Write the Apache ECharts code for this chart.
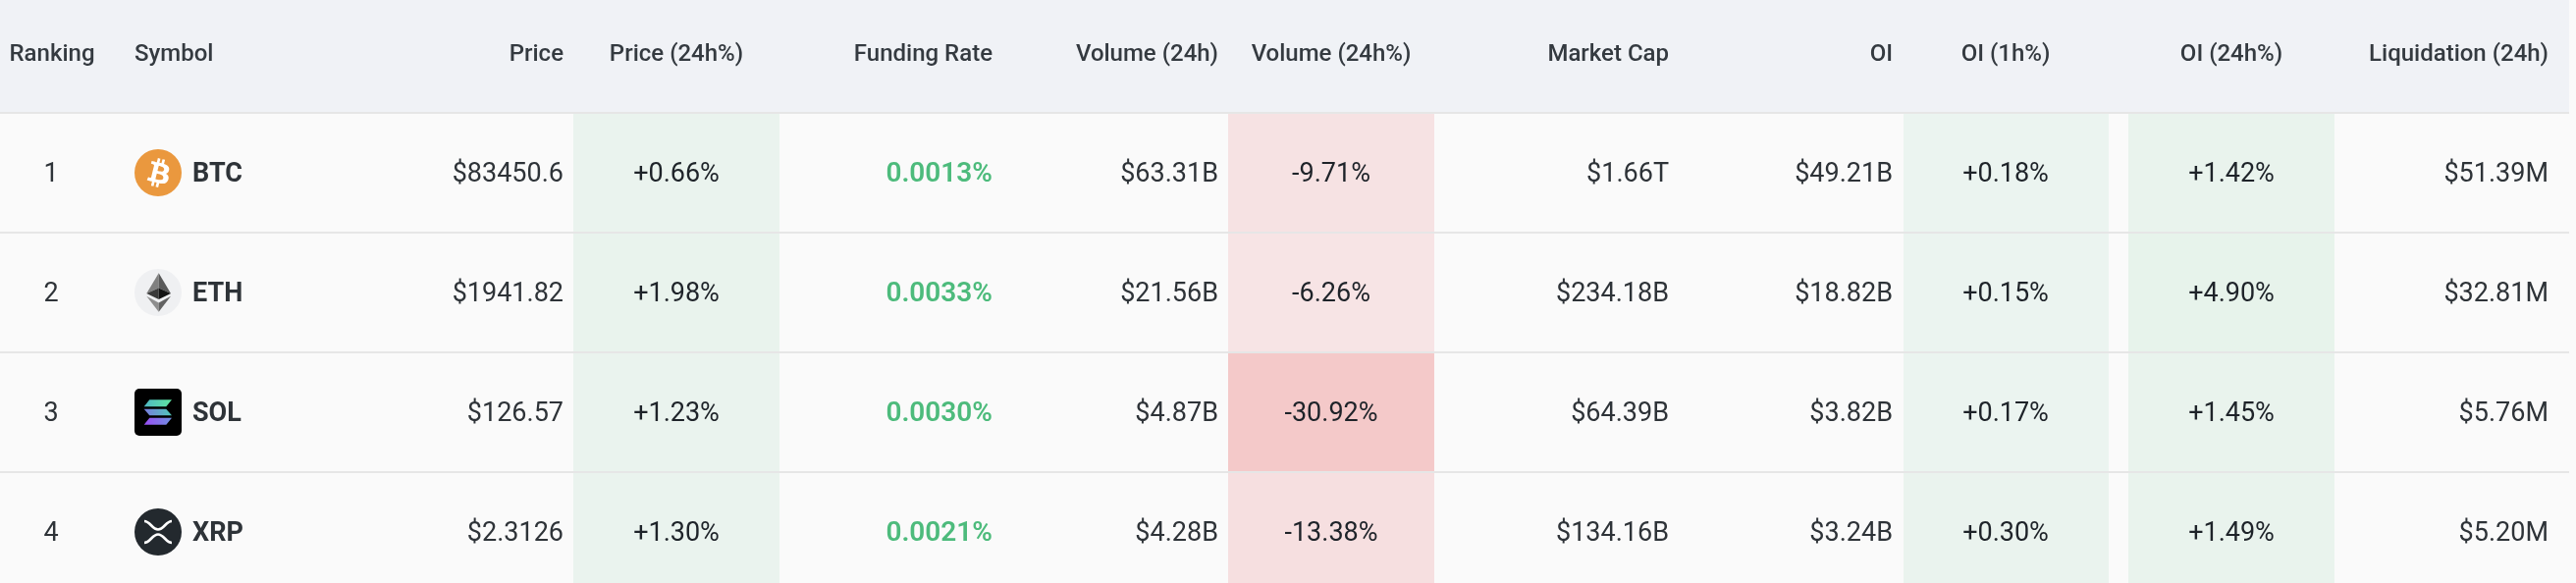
<!DOCTYPE html>
<html><head><meta charset="utf-8">
<style>html,body{margin:0;padding:0;background:#FAFAFA}#c{width:2624px;height:594px}</style>
<script src="https://cdn.jsdelivr.net/npm/echarts@6/dist/echarts.min.js"></script>
</head><body><div id="c"></div>
<script>
// ---- data ----
const headers = ['Ranking','Symbol','Price','Price (24h%)','Funding Rate','Volume (24h)','Volume (24h%)','Market Cap','OI','OI (1h%)','OI (24h%)','Liquidation (24h)'];
const rankings = [1,2,3,4];
const symbols = ['BTC','ETH','SOL','XRP'];
const prices = ['$83450.6','$1941.82','$126.57','$2.3126'];
const priceChange = [0.66,1.98,1.23,1.30];
const fundingRates = [0.0013,0.0033,0.0030,0.0021];
const volumes = ['$63.31B','$21.56B','$4.87B','$4.28B'];
const volumeChange = [-9.71,-6.26,-30.92,-13.38];
const marketCaps = ['$1.66T','$234.18B','$64.39B','$134.16B'];
const openInterest = ['$49.21B','$18.82B','$3.82B','$3.24B'];
const oiChange1h = [0.18,0.15,0.17,0.30];
const oiChange24h = [1.42,4.90,1.45,1.49];
const liquidations = ['$51.39M','$32.81M','$5.76M','$5.20M'];

// ---- formatting ----
const pct = v => (v>0?'+':'')+v.toFixed(2)+'%';
const columnText = [
  rankings.map(String), symbols, prices, priceChange.map(pct),
  fundingRates.map(v=>v.toFixed(4)+'%'), volumes, volumeChange.map(pct),
  marketCaps, openInterest, oiChange1h.map(pct), oiChange24h.map(pct), liquidations
];

// ---- layout & style (not data) ----
const W=2624,H=594,TABLE_R=2617,HEAD_B=114,LINE=2,ROW_H=122,ROW0=116;
const FONT='Roboto';
const anchors=[[52,'center'],[137,'left'],[574,'right'],[689,'center'],[1011,'right'],[1241,'right'],[1356,'center'],[1700,'right'],[1928,'right'],[2043,'center'],[2273,'center'],[2596,'right']];
const headAnchors=anchors.map((a,i)=>i===0?[53,'center']:a);
const tints={
 3:{x:[584,794],c:['#EAF3EE','#E9F3ED','#EAF3EE','#EAF3EE']},
 6:{x:[1251,1461],c:['#F6E2E3','#F7E4E5','#F4C9C9','#F6DFE0']},
 9:{x:[1939,2148],c:['#EBF4F0','#EBF4F0','#EBF4F0','#EAF3EE']},
 10:{x:[2168,2378],c:['#E9F3ED','#E7F3EB','#E9F3ED','#E9F3ED']}
};
const iconCenterY=[176,298,420,542];
const rowTop=r=>ROW0+r*ROW_H;

function iconBTC(){return [
 {type:'circle',shape:{cx:0,cy:0,r:24},style:{fill:'#EA983E'}},
 {type:'path',shape:{pathData:'M23.189 14.02c.314-2.096-1.283-3.223-3.465-3.975l.708-2.84-1.728-.43-.69 2.765c-.454-.114-.92-.22-1.385-.326l.695-2.783L15.596 6l-.708 2.839c-.376-.086-.746-.17-1.104-.26l.002-.009-2.384-.595-.46 1.846s1.283.294 1.256.312c.7.175.826.638.805 1.006l-.806 3.235c.048.012.11.03.18.057l-.183-.045-1.13 4.532c-.086.212-.303.531-.793.41.018.025-1.256-.313-1.256-.313l-.858 1.978 2.25.561c.418.105.828.215 1.231.318l-.715 2.872 1.727.43.708-2.84c.472.127.93.245 1.378.357l-.706 2.828 1.728.43.715-2.866c2.948.558 5.164.333 6.097-2.333.752-2.146-.037-3.385-1.588-4.192 1.13-.26 1.98-1.003 2.207-2.538zm-3.95 5.538c-.533 2.147-4.148.986-5.32.695l.95-3.805c1.172.293 4.929.872 4.37 3.11zm.535-5.569c-.487 1.953-3.495.96-4.47.717l.86-3.45c.975.243 4.118.696 3.61 2.733z',x:-11.5,y:-15,width:23,height:30},style:{fill:'#fff'}}
];}
function poly(pts,fill){return {type:'polygon',shape:{points:pts},style:{fill}};}
function iconETH(){return [
 {type:'circle',shape:{cx:0,cy:0,r:24},style:{fill:'#EFF0F2'}},
 poly([[0.7,-19.7],[-11.7,1],[0.7,-4.5]],'#808080'),
 poly([[0.7,-19.7],[13,1],[0.7,-4.5]],'#5A5A5A'),
 poly([[0.7,-4.5],[-11.7,1],[0.7,7]],'#3A3A3A'),
 poly([[0.7,-4.5],[13,1],[0.7,7]],'#141414'),
 poly([[-11.7,3.7],[0.7,10.5],[0.7,19.7]],'#8E8E8E'),
 poly([[13,3.7],[0.7,10.5],[0.7,19.7]],'#626262')
];}
function iconSOL(){
 const g=(c0,c1)=>new echarts.graphic.LinearGradient(0,0,1,0,[{offset:0,color:c0},{offset:1,color:c1}]);
 return [
 {type:'rect',shape:{x:-24,y:-24,width:48,height:48,r:5},style:{fill:'#000'}},
 poly([[-8.7,-12.7],[14,-12.7],[8.3,-5.7],[-14.3,-5.7]],g('#4FB8C4','#5FE6A0')),
 poly([[-14.3,-3.3],[8.3,-3.3],[14,3.3],[-8.7,3.3]],g('#7A7CE0','#4FC8B8')),
 poly([[-8.7,5.7],[14,5.7],[8.3,12.7],[-14.3,12.7]],g('#9A4DF5','#6F8FE0'))
];}
function iconXRP(){
 const s={fill:null,stroke:'#fff',lineWidth:2.6};
 return [
 {type:'circle',shape:{cx:0,cy:0,r:24},style:{fill:'#23292E'}},
 {type:'path',shape:{pathData:'M-14 -11 C-8 -11 -6 -2.5 0 -2.5 C6 -2.5 8 -11 14 -11',x:-14,y:-11,width:28,height:8.5},style:s},
 {type:'path',shape:{pathData:'M-14 11 C-8 11 -6 2.5 0 2.5 C6 2.5 8 11 14 11',x:-14,y:2.5,width:28,height:8.5},style:s}
];}
const icons=[iconBTC,iconETH,iconSOL,iconXRP];

// ---- series data built from the arrays ----
const cellItems=[];
Object.keys(tints).forEach(k=>rankings.forEach((_,r)=>cellItems.push([+k,r])));
const headItems=headers.map((_,c)=>[c,-1]);
const bodyItems=[];
columnText.forEach((col,c)=>col.forEach((_,r)=>bodyItems.push([c,r])));
const iconItems=symbols.map((_,r)=>[0,r]);

const textColor=(c)=> c===4?'#4DBB7C':([3,6,9,10].includes(c)?'#1E2329':'#2E3338');

const option={
 animation:false,
 backgroundColor:'#FAFAFA',
 grid:{left:0,right:0,top:0,bottom:0},
 xAxis:{type:'value',min:0,max:W,show:false},
 yAxis:{type:'value',min:0,max:H,inverse:true,show:false},
 tooltip:{show:false},
 series:[
 {type:'custom',silent:true,clip:false,data:[[0,0]],encode:{x:0,y:1},
  renderItem(p,api){
   const tl=api.coord([0,0]),br=api.coord([TABLE_R,HEAD_B]);
   return {type:'rect',shape:{x:tl[0],y:tl[1],width:br[0]-tl[0],height:br[1]-tl[1]},style:{fill:'#F0F2F6'}};
  }},
 {type:'custom',silent:true,clip:false,data:cellItems,encode:{x:0,y:1},
  renderItem(p,api){
   const c=api.value(0),r=api.value(1),t=tints[c];
   const a=api.coord([t.x[0],rowTop(r)]),b=api.coord([t.x[1],Math.min(rowTop(r)+ROW_H,H)]);
   return {type:'rect',shape:{x:a[0],y:a[1],width:b[0]-a[0],height:b[1]-a[1]},style:{fill:t.c[r]}};
  }},
 {type:'custom',silent:true,clip:false,data:rankings.map((_,r)=>[0,r]),encode:{x:0,y:1},z:3,
  renderItem(p,api){
   const r=api.value(1),a=api.coord([0,rowTop(r)-LINE]),b=api.coord([TABLE_R,rowTop(r)]);
   return {type:'rect',shape:{x:a[0],y:a[1],width:b[0]-a[0],height:b[1]-a[1]},style:{fill:'#E6E6E6'}};
  }},
 {type:'custom',silent:true,clip:false,data:iconItems,encode:{x:0,y:1},z:4,
  renderItem(p,api){
   const r=api.value(1),pos=api.coord([161,iconCenterY[r]]);
   return {type:'group',x:pos[0],y:pos[1],children:icons[r]()};
  }},
 {type:'custom',silent:true,clip:false,data:headItems,encode:{x:0,y:1},z:5,
  renderItem(p,api){
   const c=api.value(0),h=headAnchors[c],pos=api.coord([h[0],56]);
   return {type:'text',style:{x:pos[0],y:pos[1],text:headers[c],textAlign:h[1],textVerticalAlign:'middle',font:'500 24px '+FONT,fill:'#343A40'}};
  }},
 {type:'custom',silent:true,clip:false,data:bodyItems,encode:{x:0,y:1},z:5,
  renderItem(p,api){
   const c=api.value(0),r=api.value(1),h=anchors[c];
   const x=c===1?196:h[0];
   const pos=api.coord([x,iconCenterY[r]+2]);
   const weight=c===1?'700':(c===4?'600':'400');
   const size=c===4?28:27;
   return {type:'text',style:{x:pos[0],y:pos[1],text:columnText[c][r],textAlign:h[1],textVerticalAlign:'middle',font:weight+' '+size+'px '+FONT,fill:textColor(c)}};
  }}
 ]
};
const chart=echarts.init(document.getElementById('c'),null,{renderer:'canvas',width:W,height:H});
chart.setOption(option);
</script></body></html>
